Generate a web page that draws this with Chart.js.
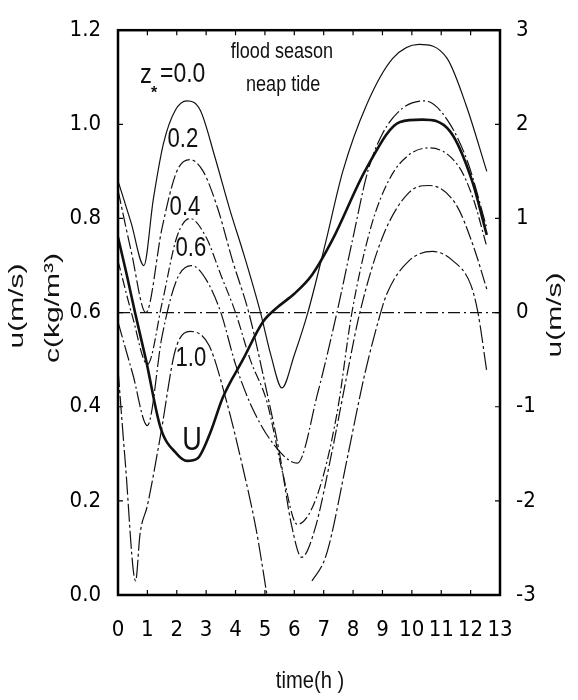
<!DOCTYPE html>
<html>
<head>
<meta charset="utf-8">
<script src="https://cdn.jsdelivr.net/npm/chart.js@4.4.1/dist/chart.umd.min.js"></script>
<style>
  html, body { margin: 0; padding: 0; background: #fff; }
  #wrap { width: 578px; height: 700px; }
</style>
</head>
<body>
<div id="wrap"><canvas id="tideChart" width="578" height="700"></canvas></div>
<script>
// Concentration c (kg/m3) at relative heights z*
const hoursZ00 = [0, 0.45, 0.88, 1.2, 1.55, 1.95, 2.35, 2.8, 3.3, 3.8, 4.3, 4.85, 5.2, 5.58, 6.0, 6.46, 7.05, 7.65, 8.45, 9.35, 10.25, 11.2, 11.85, 12.55];
const concZ00  = [0.88, 0.79, 0.70, 0.84, 0.96, 1.03, 1.05, 1.03, 0.93, 0.82, 0.72, 0.60, 0.51, 0.44, 0.51, 0.60, 0.745, 0.90, 1.04, 1.14, 1.17, 1.14, 1.04, 0.90];

const hoursZ02 = [0, 0.45, 0.95, 1.5, 2.0, 2.45, 2.9, 3.4, 3.9, 4.45, 5.0, 5.5, 5.9, 6.25, 6.7, 7.3, 7.8, 8.23, 9.0, 9.9, 10.6, 11.5, 12.1, 12.55];
const concZ02  = [0.86, 0.73, 0.60, 0.78, 0.90, 0.925, 0.90, 0.82, 0.71, 0.60, 0.45, 0.30, 0.15, 0.08, 0.14, 0.31, 0.47, 0.60, 0.76, 0.855, 0.87, 0.83, 0.74, 0.65];

const hoursZ04 = [0, 0.5, 1.0, 1.5, 2.0, 2.45, 3.0, 3.5, 4.0, 4.5, 5.07, 5.6, 6.1, 6.77, 7.45, 7.96, 8.6, 9.25, 9.9, 10.6, 11.6, 12.1, 12.55];
const concZ04  = [0.71, 0.59, 0.49, 0.62, 0.76, 0.80, 0.76, 0.68, 0.60, 0.50, 0.41, 0.26, 0.15, 0.21, 0.385, 0.60, 0.78, 0.885, 0.935, 0.95, 0.91, 0.84, 0.74];

const hoursZ06 = [0, 0.5, 1.0, 1.5, 2.0, 2.5, 3.0, 3.5, 4.0, 4.55, 5.3, 6.1, 6.8, 7.45, 8.0, 8.5, 9.0, 9.7, 10.45, 11.2, 11.9, 12.55];
const concZ06  = [0.58, 0.47, 0.36, 0.55, 0.67, 0.70, 0.67, 0.60, 0.49, 0.40, 0.32, 0.28, 0.43, 0.60, 0.76, 0.90, 0.98, 1.035, 1.05, 1.01, 0.92, 0.78];

// z* = 1.0 drops to zero between ~5 h and ~6.6 h (gap)
const hoursZ10 = [0, 0.25, 0.6, 0.75, 1.0, 1.45, 1.95, 2.45, 3.1, 3.7, 4.25, 4.7, 5.07, 5.8, 6.6, 7.0, 7.2, 7.8, 8.4, 8.85, 9.15, 9.9, 10.7, 11.4, 12.0, 12.25, 12.55];
const concZ10  = [0.48, 0.28, 0.03, 0.13, 0.19, 0.34, 0.52, 0.56, 0.53, 0.41, 0.27, 0.14, 0.0, null, 0.03, 0.07, 0.11, 0.29, 0.47, 0.58, 0.64, 0.71, 0.73, 0.71, 0.66, 0.60, 0.475];

// Depth-mean velocity U (m/s), right axis
const hoursU    = [0, 0.3, 0.58, 0.95, 1.45, 2.0, 2.35, 2.7, 3.13, 3.57, 4.25, 4.93, 5.4, 6.0, 6.6, 7.3, 8.45, 9.6, 10.35, 11.3, 12.05, 12.55];
const velocityU = [0.80, 0.40, 0.0, -0.50, -1.225, -1.50, -1.575, -1.55, -1.285, -0.90, -0.50, -0.10, 0.05, 0.20, 0.40, 0.775, 1.53, 2.025, 2.05, 1.925, 1.40, 0.825];

// u = 0 reference line
const hoursZero    = [0, 13];
const velocityZero = [0, 0];

// axis ranges
const cRange = [0, 1.2];
const uRange = [-3, 3];
const timeRange = [0, 13];

const SANS = "'Liberation Sans', Arial, sans-serif";
const INK = "#111";
// tick font: condensed face requested through the weight slot of the font string
const tickFont = { family: "'DejaVu Sans', " + SANS, size: 22, weight: "condensed" };

function toPoints(hours, values) {
  return hours.map((h, i) => ({ x: h, y: values[i] }));
}

function curve(hours, values, dash, width, axis) {
  return {
    data: toPoints(hours, values),
    yAxisID: axis || "y",
    borderColor: INK,
    borderWidth: width,
    borderDash: dash,
    pointRadius: 0,
    cubicInterpolationMode: "monotone",
    spanGaps: false,
    fill: false
  };
}

// text placed inside the plot, anchored at data coordinates
const plotLabels = [
  { text: "0.2", t: 2.21, c: 0.967, size: 27 },
  { text: "0.4", t: 2.28, c: 0.823, size: 27 },
  { text: "0.6", t: 2.48, c: 0.737, size: 27 },
  { text: "1.0", t: 2.48, c: 0.502, size: 27 },
  { text: "U",   t: 2.52, c: 0.328, size: 33 },
  { text: "flood season", t: 5.58, c: 1.153, size: 22 },
  { text: "neap tide",    t: 5.62, c: 1.084, size: 22 }
];

// horizontal text squeezed, vertical text stretched, like the scanned figure
function drawText(ctx, text, x, y, sx, font, align) {
  ctx.save();
  ctx.translate(x, y);
  ctx.scale(sx, 1);
  ctx.font = font;
  ctx.textAlign = align || "center";
  ctx.textBaseline = "middle";
  ctx.fillText(text, 0, 0);
  ctx.restore();
}

function drawRotated(ctx, text, x, y, stretch, font) {
  ctx.save();
  ctx.translate(x, y);
  ctx.rotate(-Math.PI / 2);
  ctx.scale(stretch, 1);
  ctx.font = font;
  ctx.textAlign = "center";
  ctx.textBaseline = "middle";
  ctx.fillText(text, 0, 0);
  ctx.restore();
}

const figureDecor = {
  id: "figureDecor",
  afterDraw(chart) {
    const { ctx, chartArea: area, scales } = chart;
    const xs = scales.x, ys = scales.y, ys2 = scales.y2;
    ctx.save();

    // frame
    ctx.strokeStyle = "#000";
    ctx.lineWidth = 2.5;
    ctx.strokeRect(area.left, area.top, area.right - area.left, area.bottom - area.top);

    // inward tick marks
    ctx.lineWidth = 1.2;
    ctx.beginPath();
    xs.ticks.forEach(tk => {
      const px = xs.getPixelForValue(tk.value);
      ctx.moveTo(px, area.bottom); ctx.lineTo(px, area.bottom - 5);
      ctx.moveTo(px, area.top); ctx.lineTo(px, area.top + 5);
    });
    ys.ticks.forEach(tk => {
      const py = ys.getPixelForValue(tk.value);
      ctx.moveTo(area.left, py); ctx.lineTo(area.left + 5, py);
    });
    ys2.ticks.forEach(tk => {
      const py = ys2.getPixelForValue(tk.value);
      ctx.moveTo(area.right, py); ctx.lineTo(area.right - 5, py);
    });
    ctx.stroke();

    // curve labels
    ctx.fillStyle = INK;
    plotLabels.forEach(l => {
      drawText(ctx, l.text, xs.getPixelForValue(l.t), ys.getPixelForValue(l.c), 0.82, l.size + "px " + SANS);
    });

    // z* = 0.0
    const zx = xs.getPixelForValue(0.75), zy = ys.getPixelForValue(1.105);
    drawText(ctx, "z", zx, zy, 0.85, "28px " + SANS, "left");
    drawText(ctx, "*", zx + 11, zy + 19, 1, "bold 16px " + SANS, "left");
    drawText(ctx, "=0.0", zx + 20, zy - 1, 0.82, "28px " + SANS, "left");

    // axis titles
    drawRotated(ctx, "u(m/s)", 17, 306, 1.5, "20px " + SANS);
    drawRotated(ctx, "c(kg/m³)", 53, 308, 1.5, "20px " + SANS);
    drawRotated(ctx, "u(m/s)", 555, 315, 1.5, "20px " + SANS);
    drawText(ctx, "time(h )", (area.left + area.right) / 2 + 1, 681, 0.84, "24px " + SANS);

    ctx.restore();
  }
};

new Chart(document.getElementById("tideChart").getContext("2d"), {
  type: "line",
  data: {
    datasets: [
      curve(hoursZero, velocityZero, [12, 4, 2, 4], 1.1, "y2"),
      curve(hoursZ00, concZ00, [], 1.2),
      curve(hoursZ02, concZ02, [14, 3, 3, 3], 1.2),
      curve(hoursZ04, concZ04, [10, 3, 2, 3], 1.2),
      curve(hoursZ06, concZ06, [16, 3, 2, 3], 1.2),
      curve(hoursZ10, concZ10, [18, 3, 3, 3], 1.2),
      curve(hoursU, velocityU, [], 2.6, "y2")
    ]
  },
  options: {
    responsive: false,
    animation: false,
    devicePixelRatio: 1,
    layout: { padding: { top: 28, left: 0, right: 0, bottom: 0 } },
    plugins: {
      legend: { display: false },
      tooltip: { enabled: false }
    },
    scales: {
      x: {
        type: "linear",
        min: timeRange[0],
        max: timeRange[1],
        grid: { display: false, drawTicks: false },
        border: { display: false },
        ticks: { stepSize: 1, padding: 22, autoSkip: false, maxRotation: 0, minRotation: 0, color: "#000", font: tickFont },
        afterFit(scale) { scale.height = 105; }
      },
      y: {
        position: "left",
        min: cRange[0],
        max: cRange[1],
        grid: { display: false, drawTicks: false },
        border: { display: false },
        ticks: { stepSize: 0.2, padding: 17, color: "#000", font: tickFont, callback: v => v.toFixed(1) },
        afterFit(scale) { scale.width = 118; }
      },
      y2: {
        position: "right",
        min: uRange[0],
        max: uRange[1],
        grid: { display: false, drawTicks: false },
        border: { display: false },
        ticks: { stepSize: 1, padding: 16, color: "#000", font: tickFont },
        afterFit(scale) { scale.width = 78; }
      }
    }
  },
  plugins: [figureDecor]
});
</script>
</body>
</html>
